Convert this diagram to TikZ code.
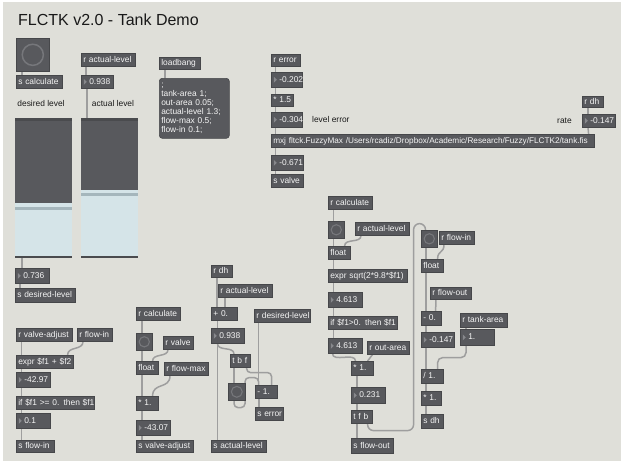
\documentclass[tikz,border=0pt]{standalone}
\usepackage{fontspec}
\setmainfont{Liberation Sans}
\usetikzlibrary{calc}
\definecolor{canvas}{RGB}{223,223,217}
\definecolor{boxfill}{RGB}{88,89,93}
\definecolor{boxedge}{RGB}{70,71,74}
\definecolor{boxtext}{RGB}{245,245,245}
\definecolor{cordc}{RGB}{158,158,158}
\definecolor{tric}{RGB}{135,136,140}
\definecolor{ringc}{RGB}{118,119,123}
\definecolor{slidlight}{RGB}{213,228,232}
\definecolor{slidline}{RGB}{165,182,188}
\definecolor{sliddark}{RGB}{74,75,78}
\definecolor{labtext}{RGB}{25,25,25}
\pgfdeclarelayer{canvaslayer}
\pgfdeclarelayer{cordlayer}
\pgfsetlayers{canvaslayer,cordlayer,main}
\tikzset{
  maxfont/.style={font=\fontsize{8.4}{9.1}\selectfont},
  pbase/.style={rectangle, draw=boxedge, line width=0.6pt, fill=boxfill, text=boxtext,
    anchor=north west, inner xsep=2pt, inner ysep=0pt, align=left, maxfont},
  pobj/.style={pbase, text height=6.1pt, text depth=1.7pt},
  pnum/.style={pobj, path picture={\fill[tric] ([xshift=2.5pt,yshift=3pt]path picture bounding box.west) -- ++(3pt,-3pt) -- ++(-3pt,-3pt) -- cycle;}},
  pbtnbox/.style={rectangle, draw=boxedge, line width=0.6pt, fill=boxfill, anchor=north west, inner sep=0pt},
  pslider/.style={rectangle, fill=boxfill, anchor=north west, inner sep=0pt},
  ring/.style={draw=ringc, line width=1.4pt},
  plabel/.style={maxfont, text=labtext, inner sep=0pt},
  cord/.style={draw=cordc, line width=1.5pt, line cap=round},
}
\newcommand\pobj[6]{%
  \pgfmathsetmacro\pw{#4-#2-4}\pgfmathsetmacro\ph{#5-#3}%
  \node[pobj, text width=\pw pt, minimum height=\ph pt] (#1) at (#2,#3) {\mbox{#6}};}
\newcommand\pnum[6]{%
  \pgfmathsetmacro\pw{#4-#2-4}\pgfmathsetmacro\ph{#5-#3}%
  \node[pnum, text width=\pw pt, minimum height=\ph pt] (#1) at (#2,#3) {\hspace*{6pt}\mbox{#6}};}
\newcommand\pbtn[5]{%
  \pgfmathsetmacro\pw{#4-#2}\pgfmathsetmacro\ph{#5-#3}\pgfmathsetmacro\pr{0.32*\pw}%
  \node[pbtnbox, minimum width=\pw pt, minimum height=\ph pt] (#1) at (#2,#3) {};
  \draw[ring, line width={(\pw>20 ? 1.5 : 1.1)*1pt}] (#1.center) circle (\pr pt);}
\begin{document}
\begin{tikzpicture}[x=1pt,y=-1pt]
\useasboundingbox (0,0) rectangle (621,461);
\begin{pgfonlayer}{canvaslayer}
\fill[white] (0,0) rectangle (621,461);
\fill[canvas] (2.5,1.5) rectangle (621,461);
\end{pgfonlayer}

\node[anchor=base west, font=\fontsize{16}{18}\selectfont, text=labtext, inner sep=0pt] (title) at (18,25) {FLCTK v2.0 - Tank Demo};

% ---- top left
\pbtn{btnA}{16}{38}{49}{71}
\pobj{sCalc}{16}{75}{62}{88}{s calculate}
\pobj{rAct1}{81}{53}{135}{66}{r actual-level}
\pnum{nAct1}{81}{75}{113}{88}{0.938}
\node[plabel] (lDes) at (41,103) {desired level};
\node[plabel] (lAct) at (113,103) {actual level};

\node[pslider, minimum width=57pt, minimum height=140pt] (sliderL) at (15,118) {};
\fill[slidlight] (15,203) rectangle (72,256);
\fill[slidline] (15,207) rectangle (72,209.5);
\fill[sliddark] (15,118) rectangle (72,121);
\fill[sliddark] (15,256) rectangle (72,258);
\node[pslider, minimum width=57pt, minimum height=140pt] (sliderR) at (81,118) {};
\fill[slidlight] (81,190) rectangle (138,256);
\fill[slidline] (81,193) rectangle (138,195.5);
\fill[sliddark] (81,118) rectangle (138,121);
\fill[sliddark] (81,256) rectangle (138,258);

\pnum{nDes}{15}{268}{49}{283}{0.736}
\pobj{sDes}{15}{288}{75}{302}{s desired-level}

% ---- loadbang
\pobj{loadbang}{159}{57}{200}{69}{loadbang}
\node[pbase, rounded corners=3pt, text width=66pt, minimum height=60pt, inner ysep=2pt] (msg) at (159,78)
  {;\\tank-area 1;\\out-area 0.05;\\actual-level 1.3;\\flow-max 0.5;\\flow-in 0.1;};

% ---- fuzzy controller
\pobj{rErr}{271}{54}{300}{66}{r error}
\pnum{nErr}{271}{72}{302}{87}{-0.202}
\pobj{mul15}{271}{94}{293}{106}{* 1.5}
\pnum{nLE}{271}{112}{302}{127}{-0.304}
\node[plabel, anchor=west] (lLE) at (312,119) {level error};
\pobj{mxj}{271}{134}{594}{147}{\fontsize{8.2}{9.1}\selectfont mxj fltck.FuzzyMax /Users/rcadiz/Dropbox/Academic/Research/Fuzzy/FLCTK2/tank.fis}
\pnum{nOut}{271}{155}{303}{170}{-0.671}
\pobj{sValve}{271}{174}{303}{187}{s valve}
\pobj{rdhA}{582}{96}{603}{107}{r dh}
\pnum{nRate}{582}{114}{615}{127}{-0.147}
\node[plabel, anchor=west] (lRate) at (557,121) {rate};

% ---- flow-in
\pobj{rVA}{16}{328}{72}{341}{r valve-adjust}
\pobj{rFI}{77}{328}{112}{341}{r flow-in}
\pobj{expr1}{16}{355}{73}{368}{expr \$f1 + \$f2}
\pnum{n4297}{16}{372}{50}{387}{-42.97}
\pobj{if1}{16}{396}{94}{409}{if \$f1 >= 0. then \$f1}
\pnum{n01}{16}{413}{50}{428}{0.1}
\pobj{sFI}{16}{440}{54}{452}{s flow-in}

% ---- valve adjust
\pobj{rCalc2}{136}{307}{180}{320}{r calculate}
\pbtn{btnB}{136}{333}{152}{350}
\pobj{rValve}{163}{336}{193}{349}{r valve}
\pobj{float2}{136}{361}{158}{374}{float}
\pobj{rFM}{164}{362}{208}{375}{r flow-max}
\pobj{mul2}{136}{396}{158}{410}{* 1.}
\pnum{n4307}{136}{420}{170}{435}{-43.07}
\pobj{sVA}{136}{440}{193}{452}{s valve-adjust}

% ---- level / error
\pobj{rdhB}{211}{265}{232}{277}{r dh}
\pobj{rAct2}{218}{284}{272}{297}{r actual-level}
\pobj{add0}{211}{307}{237}{320}{+ 0.}
\pobj{rDL}{254}{309}{310}{322}{r desired-level}
\pnum{n938b}{211}{328}{244}{343}{0.938}
\pobj{tbf}{230}{354}{250}{367}{t b f}
\pbtn{btnC}{228}{383}{245}{400}
\pobj{sub1}{255}{385}{277}{398}{- 1.}
\pobj{sErr}{255}{407}{283}{420}{s error}
\pobj{sAL}{211}{440}{266}{452}{s actual-level}

% ---- flow out
\pobj{rCalc3}{328}{196}{372}{209}{r calculate}
\pbtn{btnD}{328}{221}{344}{238}
\pobj{rAct3}{355}{222}{409}{235}{r actual-level}
\pobj{float3}{328}{246}{350}{259}{float}
\pobj{expr2}{328}{269}{407}{282}{expr sqrt(2*9.8*\$f1)}
\pnum{n4613a}{328}{292}{362}{307}{4.613}
\pobj{if2}{328}{316}{397}{329}{if \$f1>0. then \$f1}
\pnum{n4613b}{328}{338}{362}{353}{4.613}
\pobj{rOA}{367}{341}{409}{354}{r out-area}
\pobj{mul3}{351}{361}{373}{375}{* 1.}
\pnum{n0231}{351}{387}{385}{403}{0.231}
\pobj{tfb}{351}{410}{372}{423}{t f b}
\pobj{sFO}{351}{438}{393}{453}{s flow-out}

% ---- dh
\pbtn{btnE}{421}{230}{437}{247}
\pobj{rFI2}{439}{231}{474}{244}{r flow-in}
\pobj{float4}{421}{259}{443}{272}{float}
\pobj{rFO}{430}{287}{471}{299}{r flow-out}
\pobj{sub0}{421}{311}{441}{325}{- 0.}
\pnum{n0147}{421}{332}{454}{347}{-0.147}
\pobj{rTA}{460}{313}{507}{327}{r tank-area}
\pnum{n1}{460}{329}{494}{345}{1.}
\pobj{div1}{421}{369}{443}{383}{/ 1.}
\pobj{mul4}{421}{391}{441}{405}{* 1.}
\pobj{sdh}{421}{414}{443}{428}{s dh}

% ---- cords
\begin{pgfonlayer}{cordlayer}
\draw[cord] ([xshift=6pt]btnA.south west) -- ([xshift=6pt]sCalc.north west);
\draw[cord] ([xshift=5pt]rAct1.south west) -- ([xshift=5pt]nAct1.north west);
\draw[cord] ([xshift=6pt]nAct1.south west) -- ([xshift=6pt]sliderR.north west);
\draw[cord] ([xshift=7pt]sliderL.south west) -- ([xshift=7pt]nDes.north west);
\draw[cord] ([xshift=5pt]nDes.south west) -- ([xshift=5pt]sDes.north west);
\draw[cord] ([xshift=6pt]loadbang.south west) -- ([xshift=6pt]msg.north west);
\foreach \a/\b in {rErr/nErr, nErr/mul15, mul15/nLE, nLE/mxj, mxj/nOut, nOut/sValve}
  \draw[cord] ([xshift=4.5pt]\a.south west) -- ([xshift=4.5pt]\b.north west);
\draw[cord] ([xshift=6pt]rdhA.south west) -- ([xshift=6pt]nRate.north west);
\draw[cord] ([xshift=6pt]nRate.south west) -- ([xshift=-6pt]mxj.north east);
% flow-in
\foreach \a/\b in {rVA/expr1, expr1/n4297, n4297/if1, if1/n01, n01/sFI}
  \draw[cord] ([xshift=5.5pt]\a.south west) -- ([xshift=5.5pt]\b.north west);
\draw[cord] ([xshift=6pt]rFI.south west) .. controls +(0,9) and +(0,-9) .. ([xshift=-6pt]expr1.north east);
% valve adjust
\foreach \a/\b in {rCalc2/btnB, btnB/float2, float2/mul2, mul2/n4307, n4307/sVA}
  \draw[cord] ([xshift=6pt]\a.south west) -- ([xshift=6pt]\b.north west);
\draw[cord] ([xshift=5pt]rValve.south west) .. controls +(0,8) and +(0,-8) .. ([xshift=-6pt]float2.north east);
\draw[cord] ([xshift=6pt]rFM.south west) .. controls +(0,14) and +(0,-14) .. ([xshift=-6pt]mul2.north east);
% level / error
\draw[cord] ([xshift=6pt]rdhB.south west) -- ([xshift=6pt]add0.north west);
\draw[cord] ([xshift=7pt]rAct2.south west) -- ([xshift=7pt]rAct2.south west |- add0.north);
\draw[cord] ([xshift=6.5pt]add0.south west) -- ([xshift=6.5pt]sAL.north west);
\draw[cord] ([xshift=6.5pt]n938b.south west) .. controls +(0,8) and +(0,-8) .. ([xshift=4pt]tbf.north west);
\draw[cord] ([xshift=4pt]tbf.south west) -- ([xshift=4pt]tbf.south west |- btnC.north);
\draw[cord, rounded corners=4pt] ([xshift=-4pt]tbf.south east) -- ++(0,5) -| ([xshift=-6pt]sub1.north east);
\draw[cord, rounded corners=4pt] ([xshift=6pt]btnC.south west) -- ++(0,7) -- ++(11,0) -- ++(0,-30) -| ([xshift=3.5pt]sub1.north west);
\draw[cord] ([xshift=3.5pt]sub1.north west) -- ([xshift=3.5pt]sub1.north west |- rDL.south);
\draw[cord] ([xshift=4pt]sub1.south west) -- ([xshift=4pt]sErr.north west);
% flow out
\foreach \a/\b in {rCalc3/btnD, btnD/float3, float3/expr2, expr2/n4613a, n4613a/if2, if2/n4613b}
  \draw[cord] ([xshift=5.5pt]\a.south west) -- ([xshift=5.5pt]\b.north west);
\draw[cord] ([xshift=6pt]rAct3.south west) .. controls +(0,8) and +(0,-8) .. ([xshift=-6pt]float3.north east);
\draw[cord] ([xshift=4.5pt]n4613b.south west) .. controls +(0,9) and +(0,-9) .. ([xshift=4.5pt]mul3.north west);
\draw[cord] ([xshift=5.5pt]rOA.south west) -- ([xshift=-6pt]mul3.north east);
\foreach \a/\b in {mul3/n0231, n0231/tfb, tfb/sFO}
  \draw[cord] ([xshift=6pt]\a.south west) -- ([xshift=6pt]\b.north west);
\draw[cord, rounded corners=6pt] ([xshift=-5pt]tfb.south east) -- ++(0,7) -- ++(46,0) -- ++(0,-207) -| ([xshift=4.5pt]btnE.north west);
% dh
\foreach \a/\b in {btnE/float4, float4/sub0, sub0/n0147, n0147/div1, div1/mul4, mul4/sdh}
  \draw[cord] ([xshift=5pt]\a.south west) -- ([xshift=5pt]\b.north west);
\draw[cord] ([xshift=5pt]rFI2.south west) .. controls +(0,9) and +(0,-9) .. ([xshift=-6pt]float4.north east);
\draw[cord] ([xshift=6pt]rFO.south west) -- ([xshift=-6pt]sub0.north east);
\draw[cord] ([xshift=6pt]rTA.south west) -- ([xshift=6pt]n1.north west);
\draw[cord, rounded corners=5pt] ([xshift=6pt]n1.south west) -- ++(0,12) -| ([xshift=-6pt]div1.north east);
\end{pgfonlayer}
\end{tikzpicture}
\end{document}
